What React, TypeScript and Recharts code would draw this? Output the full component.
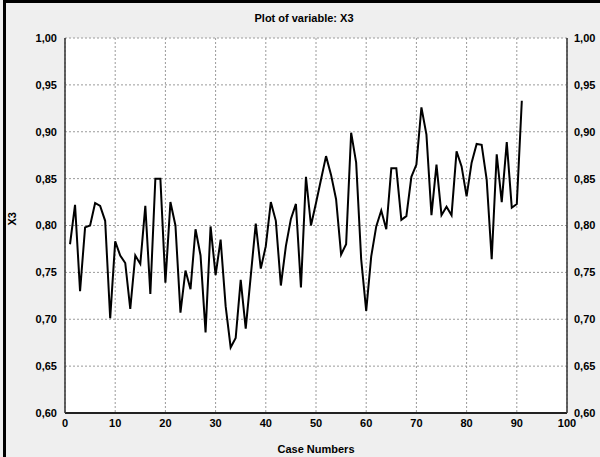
import { LineChart, Line, XAxis, YAxis, CartesianGrid } from 'recharts';

// Plot of variable X3 over case numbers 1..91
const x3Values = [
  0.780, 0.822, 0.730, 0.798, 0.800, 0.824, 0.821, 0.805, 0.701, 0.783,
  0.768, 0.760, 0.711, 0.768, 0.759, 0.821, 0.727, 0.850, 0.850, 0.739,
  0.825, 0.800, 0.707, 0.752, 0.732, 0.796, 0.768, 0.686, 0.799, 0.747,
  0.785, 0.714, 0.670, 0.680, 0.742, 0.690, 0.746, 0.802, 0.754, 0.778,
  0.825, 0.805, 0.736, 0.778, 0.807, 0.823, 0.734, 0.852, 0.800, 0.824,
  0.849, 0.874, 0.854, 0.828, 0.769, 0.780, 0.899, 0.867, 0.764, 0.709,
  0.767, 0.799, 0.816, 0.796, 0.861, 0.861, 0.806, 0.810, 0.852, 0.865,
  0.926, 0.897, 0.811, 0.865, 0.811, 0.820, 0.811, 0.879, 0.863, 0.831,
  0.867, 0.887, 0.886, 0.849, 0.764, 0.876, 0.825, 0.889, 0.819, 0.823,
  0.933,
];

const xTicks = [0, 10, 20, 30, 40, 50, 60, 70, 80, 90, 100];
const yTicks = [0.6, 0.65, 0.7, 0.75, 0.8, 0.85, 0.9, 0.95, 1.0];

const data = x3Values.map((v, i) => ({ caseNo: i + 1, x3: v }));

const font = '"Liberation Sans", Arial, sans-serif';
const tickStyle = { fontSize: 11, fontWeight: 700, fill: '#000', fontFamily: font };
const fmt = (v: number) => v.toFixed(2).replace('.', ',');

export default function App() {
  return (
    <div
      style={{
        position: 'absolute',
        left: 0,
        top: 0,
        width: 600,
        height: 457,
        background: '#efefef',
        fontFamily: font,
      }}
    >
      {/* frame */}
      <div
        style={{
          position: 'absolute',
          left: 3,
          top: 0,
          width: 597,
          height: 457,
          borderLeft: '3px solid #000',
          borderTop: '3px solid #000',
          boxSizing: 'border-box',
        }}
      />
      <div
        style={{
          position: 'absolute',
          left: 0,
          top: 12,
          width: 608,
          textAlign: 'center',
          fontSize: 11,
          fontWeight: 700,
        }}
      >
        Plot of variable: X3
      </div>
      <LineChart
        width={600}
        height={457}
        data={data}
        margin={{ top: 38, right: 0, left: 0, bottom: 0 }}
        style={{ position: 'absolute', left: 0, top: 0 }}
      >
        <CartesianGrid
          fill="#fff"
          stroke="#9a9a9a"
          strokeDasharray="2 2"
          horizontalValues={yTicks}
          verticalValues={xTicks}
          yAxisId="left"
        />
        <XAxis
          dataKey="caseNo"
          type="number"
          domain={[0, 100]}
          ticks={xTicks}
          interval={0}
          height={44}
          tickLine={false}
          tickSize={0}
          tickMargin={6}
          axisLine={{ stroke: '#222', strokeWidth: 2 }}
          tick={tickStyle}
          label={{
            value: 'Case Numbers',
            position: 'insideBottom',
            offset: 4,
            style: { fontSize: 11, fontWeight: 700, fill: '#000', fontFamily: font },
          }}
        />
        <XAxis
          xAxisId="top"
          dataKey="caseNo"
          type="number"
          orientation="top"
          domain={[0, 100]}
          ticks={xTicks}
          height={0}
          mirror
          tick={false}
          tickSize={4}
          tickLine={{ stroke: '#333' }}
          axisLine={{ stroke: '#333', strokeWidth: 1.5 }}
        />
        <YAxis
          yAxisId="left"
          domain={[0.6, 1.0]}
          ticks={yTicks}
          interval={0}
          width={65}
          tickFormatter={fmt}
          tickLine={false}
          tickSize={0}
          tickMargin={8}
          axisLine={{ stroke: '#333', strokeWidth: 1.5 }}
          tick={tickStyle}
          label={{
            value: 'X3',
            angle: -90,
            position: 'insideLeft',
            offset: 12,
            style: { fontSize: 11, fontWeight: 700, fill: '#000', fontFamily: font },
          }}
        />
        <YAxis
          yAxisId="right"
          orientation="right"
          domain={[0.6, 1.0]}
          ticks={yTicks}
          interval={0}
          width={33}
          tickFormatter={fmt}
          tickLine={false}
          tickSize={0}
          tickMargin={7}
          axisLine={{ stroke: '#333', strokeWidth: 1.5 }}
          tick={{ ...tickStyle, textAnchor: 'start' }}
        />
        <Line
          yAxisId="left"
          type="linear"
          dataKey="x3"
          stroke="#000"
          strokeWidth={2}
          dot={false}
          isAnimationActive={false}
        />
        {/* mirror axis on the right: same series, not drawn */}
        <Line
          yAxisId="right"
          type="linear"
          dataKey="x3"
          stroke="none"
          dot={false}
          activeDot={false}
          legendType="none"
          isAnimationActive={false}
        />
      </LineChart>
    </div>
  );
}
